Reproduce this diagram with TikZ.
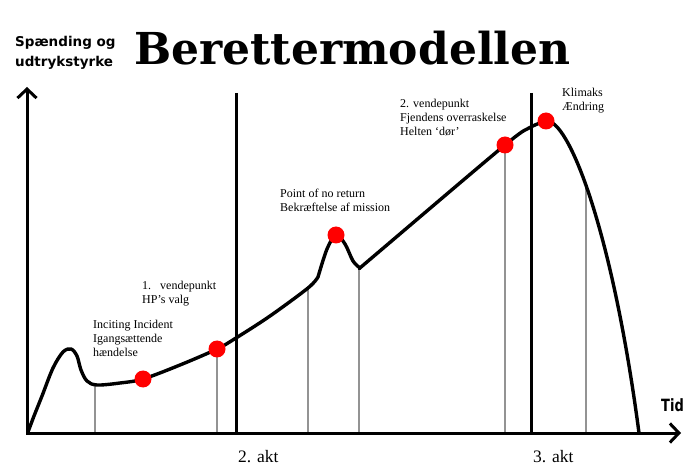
\documentclass[tikz,border=0pt]{standalone}
\usepackage{fontspec}
\setmainfont{Liberation Serif}
\newfontfamily\titlefont{DejaVu Serif}
\newfontfamily\axisfont{DejaVu Sans}
\usetikzlibrary{arrows.meta}

\begin{document}
\begin{tikzpicture}[
      x=1pt, y=-1pt,
      axis/.style={line width=3pt, line join=miter, {Straight Barb[length=9pt, width=19pt, line width=3pt, sep=3pt]}-{Straight Barb[length=9pt, width=19pt, line width=3pt, sep=3pt]}},
      act/.style={line width=3pt},
      guide/.style={line width=1.6pt, gray!85},
      storyline/.style={line width=3.4pt, line join=round, line cap=round},
      turn/.style={circle, fill=red, inner sep=0pt, minimum size=17pt},
      note/.style={font=\fontsize{12}{14}\selectfont, align=left, inner sep=0pt, anchor=north west},
      actlabel/.style={font=\fontsize{17.5}{19}\selectfont, inner sep=0pt, anchor=base west},
      axislabel/.style={font=\axisfont\bfseries\fontsize{13.5}{20}\selectfont, align=left, inner sep=0pt, anchor=north west}
  ]
      \useasboundingbox (0,0) rectangle (699,470);

      % axes and act borders
      \coordinate (o) at (27,433);
      \coordinate (ytop) at (27,84);
      \coordinate (xend) at (684,433);
      \coordinate (act2top) at (236.5,93);
      \coordinate (act3top) at (531.5,93);

      % points on the story line
      \coordinate (g1) at (95,385);
      \coordinate (inc) at (143,379);
      \coordinate (vp1) at (217,349);
      \coordinate (g3) at (308,288);
      \coordinate (pnr) at (336,235);
      \coordinate (g4) at (359,268);
      \coordinate (vp2) at (505,145);
      \coordinate (klim) at (546,121);
      \coordinate (g6) at (586,187);
      \coordinate (tail) at (639,433);

      \foreach \p in {g1,vp1,g3,g4,vp2,g6}
        \draw[guide] (\p) -- (\p |- o);
      \draw[act] (act2top) -- (act2top |- o);
      \draw[act] (act3top) -- (act3top |- o);

      \draw[storyline] plot[smooth, tension=0.55] coordinates {(28,432) (34,416) (42,396) (53,368) (63,352) (71,349) (77,356) (81,370) (87,381) (97,385) (120,383) (143,379) (180,365) (217,349) (236,338) (270,316) (308,288) (318,277)}
        -- plot[smooth, tension=0.55] coordinates {(318,277) (327,249) (336,235) (345,244) (353,261) (360,268)}
        -- plot[smooth, tension=0.5] coordinates {(360,268) (374,256) (505,145) (531,127) (546,121)}
        .. controls (568,118) and (612,228) .. (tail);

      \draw[axis] (ytop) -- (o) -- (xend);

      \foreach \p in {inc,vp1,pnr,vp2,klim}
        \node[turn] (dot-\p) at (\p) {};

      % texts
      \node[font=\titlefont\bfseries\fontsize{44}{48}\selectfont, inner sep=0pt, anchor=base west] (title) at (134,65) {Berettermodellen};
      \node[axislabel] (yname) at (15,36) {Spænding og\\udtrykstyrke};
      \node[font=\axisfont\bfseries\fontsize{13}{15}\selectfont, inner sep=0pt, anchor=base west] (xname) at (661,411) {\scalebox{1}[1.3]{Tid}};

      \node[note] (incnote) at (93,320) {Inciting Incident\\Igangsættende\\hændelse};
      \node[note] (vp1note) at (142,281) {1.\hspace{9pt}vendepunkt\\HP’s valg};
      \node[note] (pnrnote) at (280,189) {Point of no return\\Bekræftelse af mission};
      \node[note] (vp2note) at (400,99) {2. vendepunkt\\Fjendens overraskelse\\Helten ‘dør’};
      \node[note] (klimnote) at (562,88) {Klimaks\\Ændring};

      \node[actlabel] (act2) at (238,462) {2. akt};
      \node[actlabel] (act3) at (533,462) {3. akt};
  \end{tikzpicture}
\end{document}
